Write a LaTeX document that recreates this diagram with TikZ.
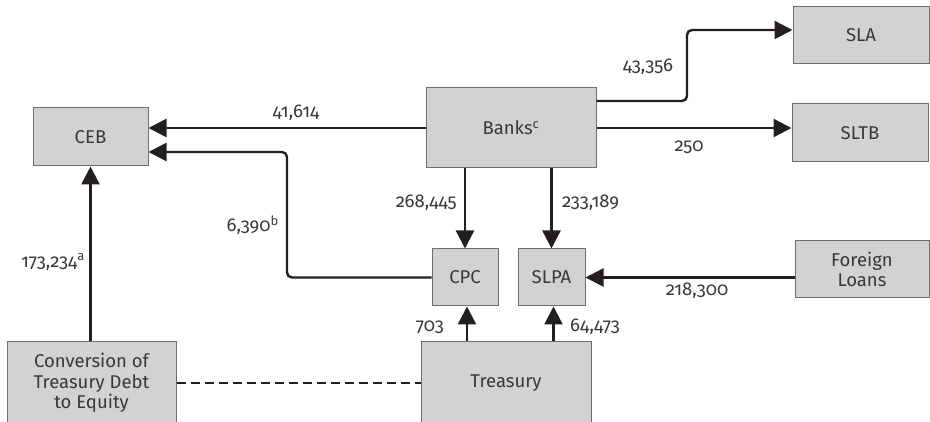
\documentclass[tikz,border=0pt]{standalone}
\usepackage{fontspec}
\setmainfont{Fira Sans}[Numbers=OldStyle]
\usetikzlibrary{arrows.meta}
\definecolor{boxfill}{HTML}{D1D2D4}
\definecolor{boxline}{HTML}{6D6E70}
\definecolor{ink}{HTML}{231F20}
\definecolor{txt}{HTML}{3A3738}
\begin{document}
\begin{tikzpicture}[x=1pt,y=-1pt,
  box/.style={draw=boxline, fill=boxfill, line width=1pt, inner sep=0pt,
    align=center, text=txt, font=\fontsize{18.5}{20.5}\selectfont},
  flow/.style={draw=ink, line width=2.4pt, -{Triangle[length=18pt,width=18pt]}},
  link/.style={draw=ink, line width=2.4pt, dash pattern=on 9pt off 5pt},
  lbl/.style={text=txt, inner sep=0pt, font=\fontsize{18.5}{20.5}\selectfont}]
\useasboundingbox (0,0) rectangle (930,422);
\node[box, minimum width=115pt, minimum height=58pt] (CEB) at (90.5,137) {CEB};
\node[box, minimum width=170pt, minimum height=80pt] (Banks) at (511,128) {Banks\textsuperscript{c}};
\node[box, minimum width=136pt, minimum height=57pt] (SLA) at (861,35.5) {SLA};
\node[box, minimum width=136pt, minimum height=58pt] (SLTB) at (860,133) {SLTB};
\node[box, minimum width=66pt, minimum height=57pt] (CPC) at (465,277.5) {CPC};
\node[box, minimum width=67pt, minimum height=57pt] (SLPA) at (551.5,277.5) {SLPA};
\node[box, minimum width=134pt, minimum height=57pt] (FL) at (862,269.5) {Foreign\\Loans};
\node[box, minimum width=170pt, minimum height=82pt] (Tr) at (506,383) {Treasury};
\node[box, minimum width=169pt, minimum height=82pt] (Conv) at (91.5,383) {Conversion of\\Treasury Debt\\to Equity};
% connectors
\draw[flow] (Banks.west) -- (CEB.east |- Banks.west);
\draw[flow, rounded corners=5pt] (CPC.west) -- (287,277.5) -- (287,152) -- ([yshift=-15pt]CEB.east);
\draw[flow, rounded corners=5pt] ([yshift=27pt]Banks.east) -- (687,101) -- (687,30) -- (SLA.west |- 0,30);
\draw[flow] (Banks.east) -- (SLTB.west |- Banks.east);
\draw[flow] (CPC.north |- Banks.south) -- (CPC.north);
\draw[flow] (SLPA.north |- Banks.south) -- (SLPA.north);
\draw[flow] ([xshift=2pt]CPC.south |- Tr.north) -- ([xshift=2pt]CPC.south);
\draw[flow] ([xshift=2pt]SLPA.south |- Tr.north) -- ([xshift=2pt]SLPA.south);
\draw[flow] (FL.west |- SLPA.east) -- (SLPA.east);
\draw[flow] (CEB.south |- Conv.north) -- (CEB.south);
\draw[link] (Conv.east) -- (Tr.west);
% labels
\node[lbl] (l1) at (296,113) {41,614};
\node[lbl, anchor=east] (l2) at (279,225) {6,390\textsuperscript{b}};
\node[lbl, anchor=east] (l3) at (457,203) {268,445};
\node[lbl, anchor=west] (l4) at (562,203) {233,189};
\node[lbl, anchor=east] (l5) at (85,262) {173,234\textsuperscript{a}};
\node[lbl] (l6) at (648,67) {43,356};
\node[lbl] (l7) at (689,147) {250};
\node[lbl] (l8) at (697,291) {218,300};
\node[lbl, anchor=east] (l9) at (444,327) {703};
\node[lbl, anchor=west] (l10) at (570,327) {64,473};
\end{tikzpicture}
\end{document}
